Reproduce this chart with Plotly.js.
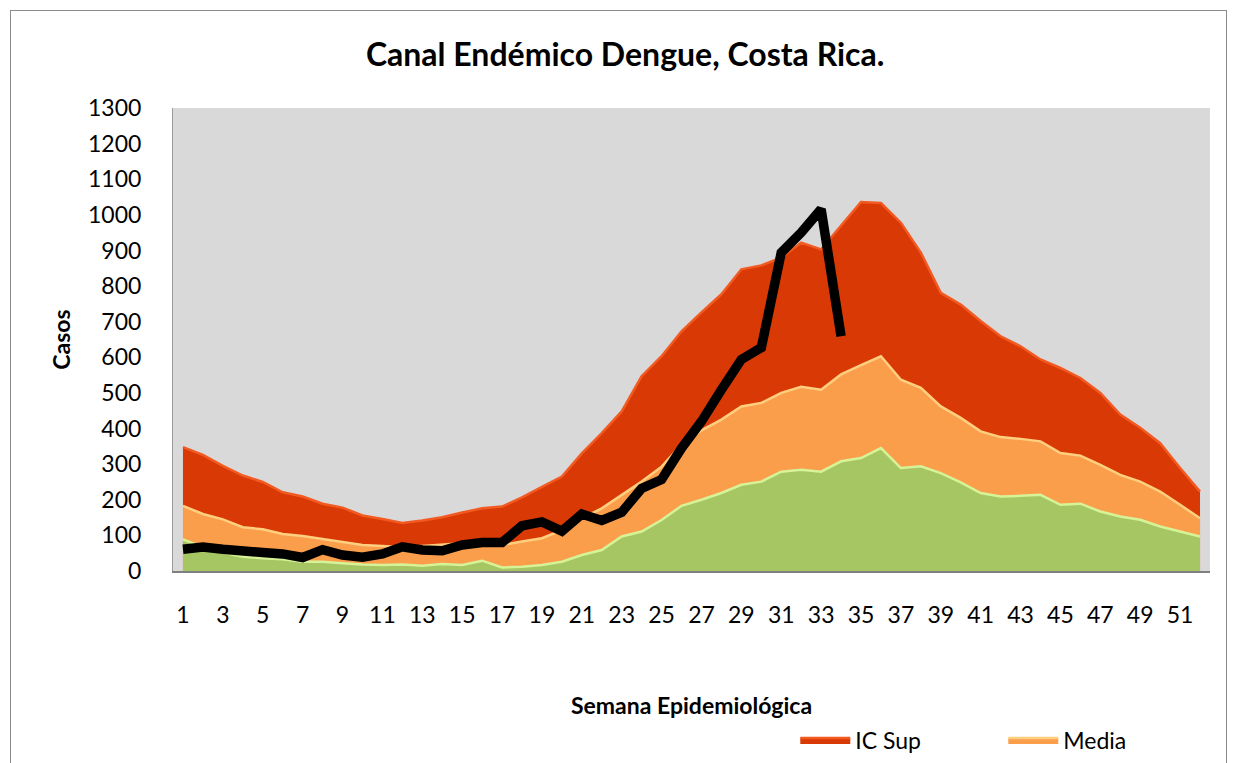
<!DOCTYPE html>
<html>
<head>
<meta charset="utf-8">
<script src="https://cdn.plot.ly/plotly-3.0.1.min.js"></script>
<style>
  html, body { margin: 0; padding: 0; background: #ffffff; overflow: hidden; }
  #wrap { position: relative; width: 1233px; height: 763px; overflow: hidden; }
  #chart { position: absolute; left: 0; top: 0; width: 1233px; height: 763px; }
  #frame { position: absolute; left: 10px; top: 10px; width: 1217px; height: 820px;
           border: 1px solid #8c8c8c; pointer-events: none; box-sizing: border-box; }
</style>
</head>
<body>
<div id="wrap">
  <div id="chart"></div>
  <div id="frame"></div>
</div>
<script>
// Semana epidemiológica 1..52
const semanas = [1,2,3,4,5,6,7,8,9,10,11,12,13,14,15,16,17,18,19,20,21,22,23,24,25,26,
                 27,28,29,30,31,32,33,34,35,36,37,38,39,40,41,42,43,44,45,46,47,48,49,50,51,52];

// Límite superior (IC Sup)
const icSup = [348,326,295,268,250,221,209,189,178,156,146,135,142,151,164,176,181,207,236,265,
               330,387,448,547,603,673,726,777,847,858,880,922,903,969,1036,1033,978,894,781,748,
               702,659,631,594,570,542,500,439,402,359,289,223];

// Media
const media = [183,160,145,123,117,104,98,89,80,73,70,67,70,73,78,78,73,83,92,115,
               148,176,214,251,293,355,395,425,462,472,500,517,509,552,578,603,537,514,462,430,
               392,376,371,364,331,324,298,270,251,223,186,148];

// Límite inferior (IC Inf)
const icInf = [89,67,52,40,36,33,26,26,22,18,17,18,15,20,17,29,10,12,17,26,
               45,59,97,111,143,183,200,219,242,251,279,284,279,308,317,345,289,294,275,249,
               219,209,211,214,186,189,167,153,144,125,111,97];

// Casos del año actual (semanas 1..34)
const semanasActual = semanas.slice(0, 34);
const casosActual = [61,67,61,59,52,48,38,60,45,39,48,68,59,57,73,80,80,127,138,112,
                     160,142,165,232,257,345,420,509,594,627,894,950,1016,659];

const xTickVals = semanas.filter(s => s % 2 === 1);
const xTickText = xTickVals.map(String);
const yTickVals = [0,100,200,300,400,500,600,700,800,900,1000,1100,1200,1300];

const FONT = 'Lato, "Open Sans", sans-serif';

const traces = [
  {
    x: semanas, y: icSup, name: 'IC Sup', type: 'scatter', mode: 'lines',
    fill: 'tozeroy', fillcolor: '#d93a05',
    line: { color: '#f25a22', width: 2.5, shape: 'linear' },
    hoverinfo: 'x+y+name'
  },
  {
    x: semanas, y: media, name: 'Media', type: 'scatter', mode: 'lines',
    fill: 'tozeroy', fillcolor: '#fb9e4c',
    line: { color: '#ffcf80', width: 2.5 },
    hoverinfo: 'x+y+name'
  },
  {
    x: semanas, y: icInf, name: 'IC Inf', type: 'scatter', mode: 'lines',
    fill: 'tozeroy', fillcolor: '#a6c663',
    line: { color: '#d6f398', width: 2.5 },
    showlegend: false, hoverinfo: 'x+y+name'
  },
  {
    x: semanasActual, y: casosActual, name: 'Casos', type: 'scatter', mode: 'lines',
    line: { color: '#000000', width: 9.5 },
    showlegend: false, hoverinfo: 'x+y+name'
  }
];

const layout = {
  width: 1233, height: 763,
  margin: { l: 173, r: 23, t: 108, b: 192 },
  paper_bgcolor: '#ffffff',
  plot_bgcolor: '#d9d9d9',
  font: { family: FONT, size: 22, color: '#000000' },
  title: {
    text: '<b>Canal Endémico Dengue, Costa Rica.</b>',
    font: { family: FONT, size: 32, color: '#000000' },
    xref: 'container', x: 0.507, xanchor: 'center',
    yref: 'container', y: 0.928, yanchor: 'middle'
  },
  xaxis: {
    range: [0.5, 52.5],
    tickmode: 'array', tickvals: xTickVals, ticktext: xTickText,
    ticks: '', ticklabelstandoff: 22,
    showgrid: false, zeroline: false,
    showline: true, linecolor: '#7f7f7f', linewidth: 2,
    tickfont: { family: FONT, size: 23, color: '#000000' },
    title: { text: '<b>Semana Epidemiológica</b>', font: { family: FONT, size: 23, color: '#000000' }, standoff: 86 }
  },
  yaxis: {
    range: [0, 1300],
    tickmode: 'array', tickvals: yTickVals,
    ticks: '', ticklabelstandoff: 26,
    showgrid: false, zeroline: false,
    showline: true, linecolor: '#9a9a9a', linewidth: 1,
    tickfont: { family: FONT, size: 23, color: '#000000' },
    title: { text: '<b>Casos</b>', font: { family: FONT, size: 23, color: '#000000' }, standoff: 10 }
  },
  showlegend: true,
  legend: {
    orientation: 'h',
    xref: 'container', yref: 'container',
    x: 0.645, xanchor: 'left',
    y: 0.03, yanchor: 'middle',
    itemwidth: 50,
    entrywidth: 143, entrywidthmode: 'pixels',
    traceorder: 'normal',
    font: { family: FONT, size: 23, color: '#000000' },
    bgcolor: 'rgba(0,0,0,0)'
  }
};

Plotly.newPlot('chart', traces, layout, { displayModeBar: false, responsive: false });
</script>
</body>
</html>
